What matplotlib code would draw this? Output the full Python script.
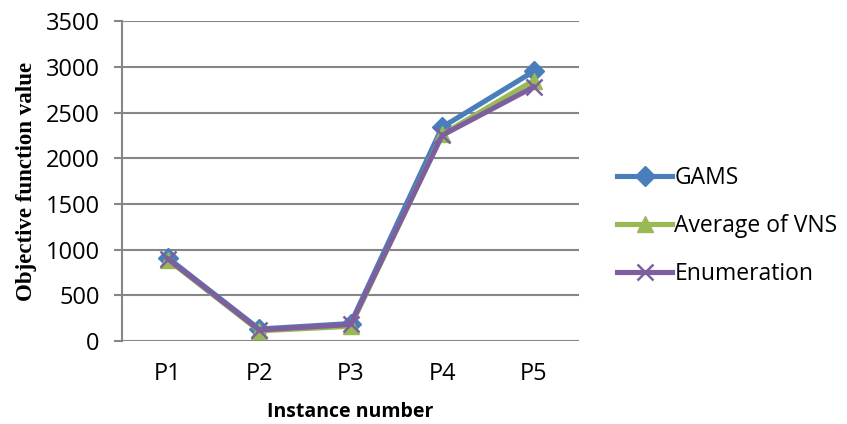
import matplotlib
matplotlib.use("Agg")
import matplotlib.pyplot as plt
import numpy as np

# data
instances = ["P1", "P2", "P3", "P4", "P5"]
gams = [910, 130, 190, 2340, 2950]
vns = [890, 110, 160, 2260, 2850]
enumeration = [900, 120, 180, 2250, 2780]

fig = plt.figure(figsize=(8.47, 4.24), dpi=100)
ax = fig.add_axes([0.144, 0.196, 0.54, 0.754])

x = np.arange(len(instances))
ax.plot(x, gams, color="#4a7ebb", lw=3.7, marker="D", ms=10, label="GAMS")
ax.plot(x, vns, color="#98b954", lw=3.7, marker="^", ms=12, label="Average of VNS")
ax.plot(x, enumeration, color="#7d5fa0", lw=3.7, marker="x", ms=12, mew=1.8, label="Enumeration")

ax.set_xlim(-0.5, 4.5)
ax.set_ylim(0, 3500)
ax.set_yticks(np.arange(0, 3501, 500))
ax.set_xticks(x)
ax.set_xticklabels(instances)
ax.grid(axis="y", color="#868686", lw=1.5)
ax.set_axisbelow(True)
for s in ["top", "right", "bottom"]:
    ax.spines[s].set_visible(False)
ax.spines["left"].set_color("#868686")
ax.spines["left"].set_linewidth(1.5)
ax.tick_params(axis="y", length=6, color="#868686", width=1.5, labelsize=17, pad=10)
ax.tick_params(axis="x", length=0, labelsize=17, pad=15)
for t in ax.get_xticklabels() + ax.get_yticklabels():
    t.set_family("Open Sans")

ax.set_ylabel("Objective function value", family="Liberation Serif", fontweight="bold", fontsize=16.5)
ax.yaxis.set_label_coords(-0.185, 0.5)
ax.set_xlabel("Instance number", family="Open Sans", fontweight="bold", fontsize=14)
ax.xaxis.set_label_coords(0.5, -0.19)

leg = fig.legend(loc="center left", bbox_to_anchor=(617 / 847, 1 - 226 / 424), frameon=False,
                 prop={"family": "Open Sans", "size": 16.5}, borderpad=0, borderaxespad=0,
                 handlelength=2.4, labelspacing=1.05, handletextpad=0.1)

fig.savefig("out.png", dpi=100)
